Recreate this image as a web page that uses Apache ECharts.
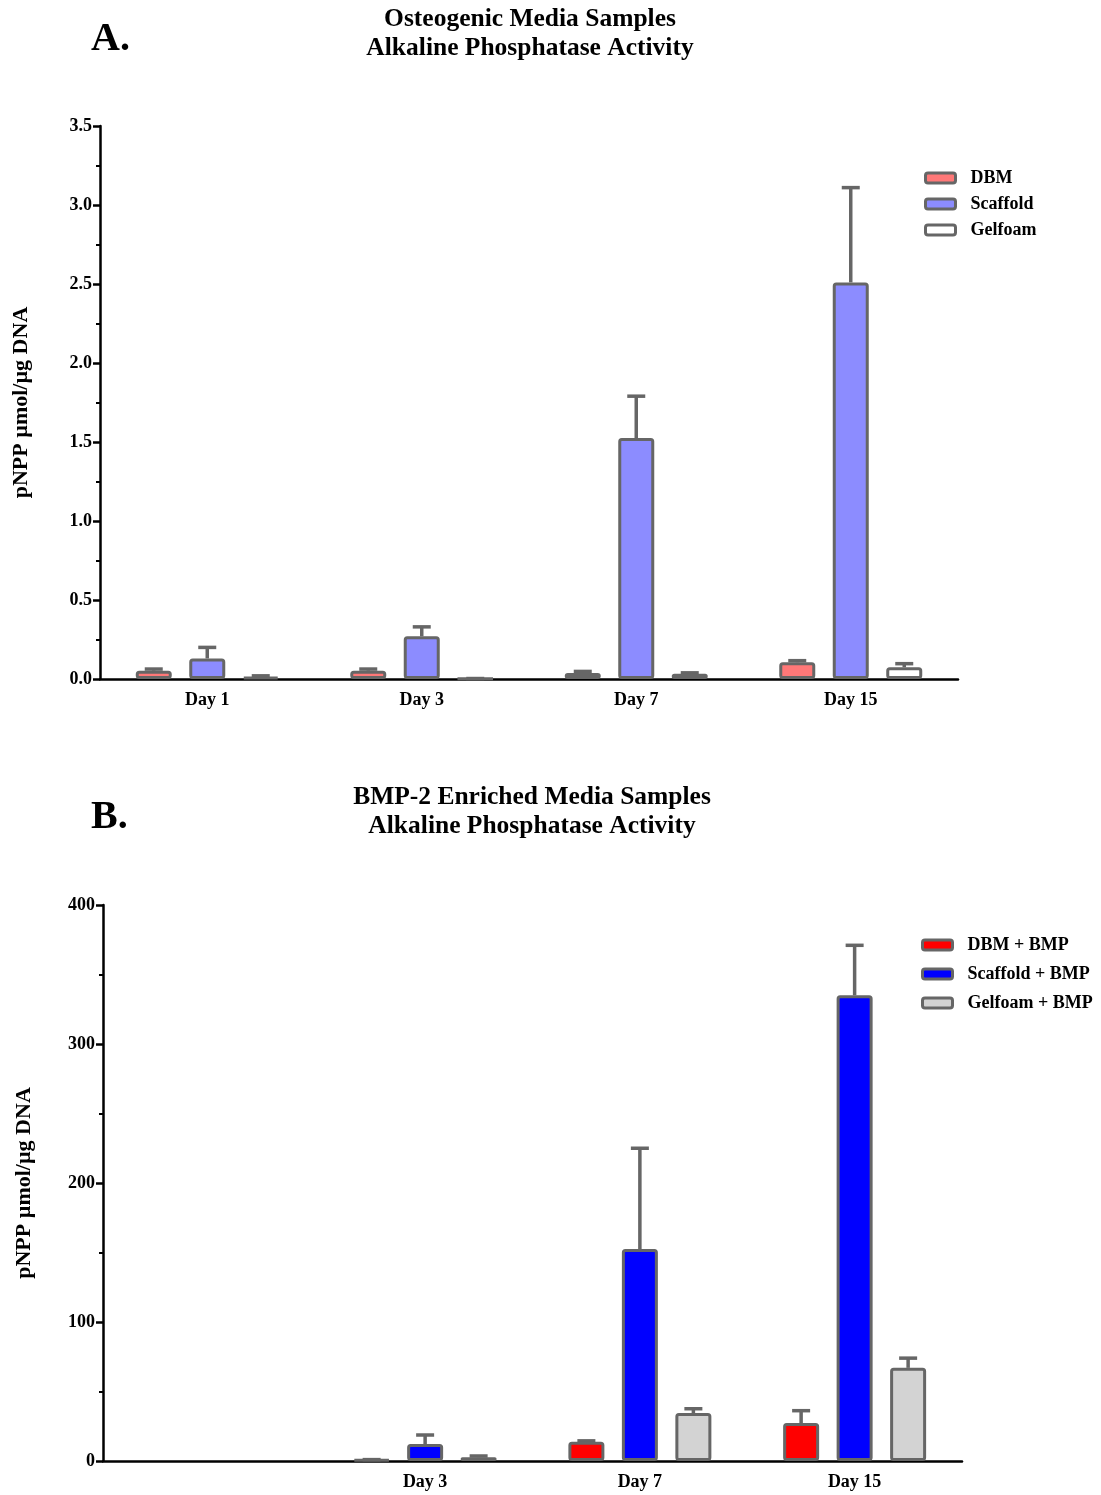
<!DOCTYPE html>
<html>
<head>
<meta charset="utf-8">
<script src="https://cdn.jsdelivr.net/npm/echarts@6/dist/echarts.min.js"></script>
<style>
  html, body { margin: 0; padding: 0; background: #fff; }
  #chart { width: 1101px; height: 1495px; }
</style>
</head>
<body>
<div id="chart"></div>
<script>
// categories
var daysA = ['Day 1', 'Day 3', 'Day 7', 'Day 15'];
var daysB = ['', 'Day 3', 'Day 7', 'Day 15'];

// panel A - osteogenic media (mean, error)
var dbmA = [0.053, 0.053, 0.038, 0.106];
var dbmErrA = [0.01, 0.01, 0.01, 0.01];
var scaffoldA = [0.13, 0.27, 1.525, 2.51];
var scaffoldErrA = [0.07, 0.06, 0.265, 0.60];
var gelfoamA = [0.013, 0.003, 0.034, 0.074];
var gelfoamErrA = [0.007, 0, 0.005, 0.023];

// panel B - BMP-2 enriched media (mean, error)
var dbmB = ['-', 1, 13.9, 27.3];
var dbmErrB = ['-', 0, 0.6, 8.9];
var scaffoldB = ['-', 12.2, 152.5, 335];
var scaffoldErrB = ['-', 6.5, 72.5, 36];
var gelfoamB = ['-', 2.7, 34.5, 67];
var gelfoamErrB = ['-', 0.9, 3.1, 7];

var FONT = '"Liberation Serif", "Times New Roman", serif';
var BAR_W = 36;
var BAR_STEP = 53.5;
var EDGE = '#666666';

var chart = echarts.init(document.getElementById('chart'));

function barSeries(name, data, color, axisIdx) {
  return {
    name: name,
    type: 'bar',
    xAxisIndex: axisIdx,
    yAxisIndex: axisIdx,
    data: data,
    barWidth: BAR_W,
    barGap: '48.6%',
    z: 3,
    itemStyle: { color: color, borderColor: EDGE, borderWidth: 3, borderRadius: 2 },
    emphasis: { disabled: true }
  };
}

// upward error bar with a cap, shifted to the bar's slot k (0,1,2)
function errSeries(means, errs, k, axisIdx) {
  var data = [];
  for (var i = 0; i < means.length; i++) {
    if (means[i] === '-') continue;
    data.push([i, means[i], means[i] + errs[i]]);
  }
  return {
    type: 'custom',
    xAxisIndex: axisIdx,
    yAxisIndex: axisIdx,
    z: 2,
    silent: true,
    data: data,
    renderItem: function (params, api) {
      var p0 = api.coord([api.value(0), api.value(1)]);
      var p1 = api.coord([api.value(0), api.value(2)]);
      var x = p0[0] + (k - 1) * BAR_STEP;
      var cap = BAR_W / 4;
      var st = { stroke: EDGE, lineWidth: 3.5 };
      return {
        type: 'group',
        children: [
          { type: 'line', shape: { x1: x, y1: p0[1], x2: x, y2: p1[1] }, style: st },
          { type: 'line', shape: { x1: x - cap, y1: p1[1], x2: x + cap, y2: p1[1] }, style: st }
        ]
      };
    }
  };
}

function xAx(cats, gi) {
  return {
    type: 'category',
    gridIndex: gi,
    data: cats,
    axisLine: { lineStyle: { color: '#000', width: 2.5 } },
    axisTick: { alignWithLabel: true, length: 7, lineStyle: { color: '#000', width: 2.5 } },
    axisLabel: { color: '#000', fontFamily: FONT, fontWeight: 'bold', fontSize: 18, margin: 12 }
  };
}

function yAx(gi, max, interval, fmt) {
  return {
    type: 'value',
    gridIndex: gi,
    min: 0,
    max: max,
    interval: interval,
    name: 'pNPP µmol/µg DNA',
    nameLocation: 'middle',
    nameRotate: 90,
    nameGap: 68,
    nameTextStyle: { color: '#000', fontFamily: FONT, fontWeight: 'bold', fontSize: 22 },
    axisLine: { show: true, lineStyle: { color: '#000', width: 2.5 } },
    axisTick: { show: true, length: 7, lineStyle: { color: '#000', width: 2.5 } },
    minorTick: { show: true, splitNumber: 2, length: 4, lineStyle: { color: '#000', width: 2 } },
    splitLine: { show: false },
    axisLabel: {
      color: '#000', fontFamily: FONT, fontWeight: 'bold', fontSize: 18, margin: 8,
      formatter: fmt
    }
  };
}

var legendText = { color: '#000', fontFamily: FONT, fontWeight: 'bold', fontSize: 18, padding: [0, 0, 0, 10] };
var legendIcon = { borderColor: EDGE, borderWidth: 3 };

var option = {
  backgroundColor: '#fff',
  animation: false,
  title: [
    { text: 'A.', left: 86, top: 15, textStyle: { fontFamily: FONT, fontWeight: 'bold', fontSize: 40, color: '#000' } },
    { text: 'Osteogenic Media Samples\nAlkaline Phosphatase Activity', left: 525, top: 0, textAlign: 'center',
      textStyle: { fontFamily: FONT, fontWeight: 'bold', fontSize: 25.5, lineHeight: 29, color: '#000' } },
    { text: 'B.', left: 86, top: 793, textStyle: { fontFamily: FONT, fontWeight: 'bold', fontSize: 40, color: '#000' } },
    { text: 'BMP-2 Enriched Media Samples\nAlkaline Phosphatase Activity', left: 527, top: 778, textAlign: 'center',
      textStyle: { fontFamily: FONT, fontWeight: 'bold', fontSize: 25.5, lineHeight: 29, color: '#000' } }
  ],
  legend: [
    { data: ['DBM', 'Scaffold', 'Gelfoam'], orient: 'vertical', left: 919, top: 164,
      icon: 'roundRect', itemWidth: 30, itemHeight: 10, itemGap: 8, textStyle: legendText, itemStyle: legendIcon },
    { data: ['DBM + BMP', 'Scaffold + BMP', 'Gelfoam + BMP'], orient: 'vertical', left: 916, top: 931,
      icon: 'roundRect', itemWidth: 30, itemHeight: 10, itemGap: 11, textStyle: legendText, itemStyle: legendIcon }
  ],
  grid: [
    { left: 100, right: 143, top: 126, height: 553 },
    { left: 103, right: 139, top: 905, height: 556 }
  ],
  xAxis: [xAx(daysA, 0), xAx(daysB, 1)],
  yAxis: [
    yAx(0, 3.5, 0.5, function (v) { return v.toFixed(1); }),
    yAx(1, 400, 100, function (v) { return String(v); })
  ],
  series: [
    errSeries(dbmA, dbmErrA, 0, 0),
    errSeries(scaffoldA, scaffoldErrA, 1, 0),
    errSeries(gelfoamA, gelfoamErrA, 2, 0),
    barSeries('DBM', dbmA, '#ff7878', 0),
    barSeries('Scaffold', scaffoldA, '#8c8cff', 0),
    barSeries('Gelfoam', gelfoamA, '#ffffff', 0),
    errSeries(dbmB, dbmErrB, 0, 1),
    errSeries(scaffoldB, scaffoldErrB, 1, 1),
    errSeries(gelfoamB, gelfoamErrB, 2, 1),
    barSeries('DBM + BMP', dbmB, '#ff0000', 1),
    barSeries('Scaffold + BMP', scaffoldB, '#0000ff', 1),
    barSeries('Gelfoam + BMP', gelfoamB, '#d3d3d3', 1)
  ]
};

chart.setOption(option);
</script>
</body>
</html>
